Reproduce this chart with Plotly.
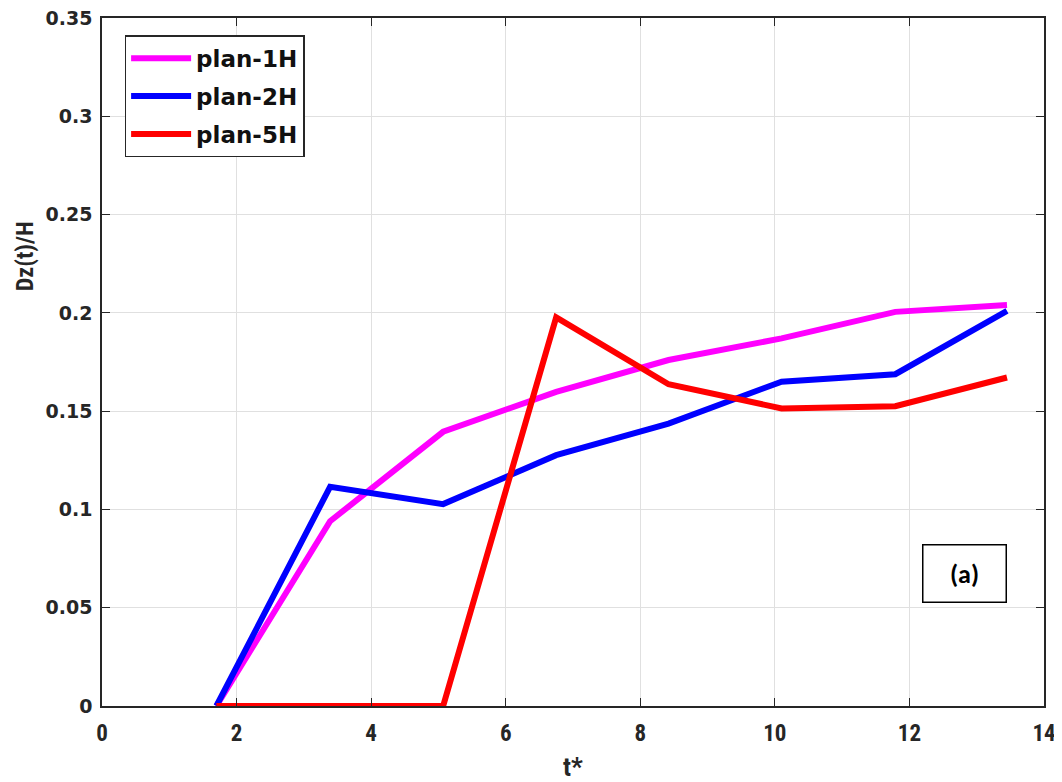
import plotly.graph_objects as go

t = [1.70, 3.39, 5.07, 6.75, 8.42, 10.10, 11.79, 13.45]
plan_1H = [0.0, 0.094, 0.1395, 0.1598, 0.176, 0.187, 0.2005, 0.204]
plan_2H = [0.0, 0.1115, 0.1027, 0.1276, 0.1437, 0.165, 0.1688, 0.201]
plan_5H = [0.0, 0.0, 0.0, 0.1977, 0.1637, 0.1514, 0.1525, 0.1671]

series = [("plan-1H", plan_1H, "#ff00ff"),
          ("plan-2H", plan_2H, "#0000ff"),
          ("plan-5H", plan_5H, "#ff0000")]

fig = go.Figure()
for name, ys, col in series:
    fig.add_trace(go.Scatter(x=t, y=ys, mode="lines", name=name, legendgroup=name,
                             line=dict(color=col, width=6)))

font_main = "Liberation Sans, Arial, sans-serif"
font_narrow = "Liberation Sans Narrow, Arial Narrow, Roboto Condensed, Liberation Sans, sans-serif"
font_wide = "DejaVu Sans, Liberation Sans, sans-serif"
axis_common = dict(showline=True, linecolor="#262626", linewidth=1.5, mirror="ticks",
                   ticks="inside", ticklen=8, tickcolor="#262626",
                   showgrid=True, gridcolor="#e0e0e0", gridwidth=1, zeroline=False,
                   ticklabeloverflow="allow")

fig.update_xaxes(range=[0, 14], dtick=2, **axis_common,
                 tickfont=dict(family=font_narrow, size=23, color="#262626", weight="bold"),
                 ticklabelstandoff=6,
                 title=dict(text="t*", font=dict(family=font_narrow, size=26, color="#262626", weight="bold"),
                            standoff=20))
fig.update_yaxes(range=[0, 0.35], dtick=0.05, tickformat="~g", **axis_common,
                 tickfont=dict(family=font_wide, size=19, color="#262626", weight="bold"),
                 ticklabelstandoff=4)

fig.update_layout(
    width=1054, height=774,
    margin=dict(l=94, r=18, t=10, b=76, autoexpand=False),
    plot_bgcolor="white", paper_bgcolor="white",
    legend=dict(x=0.024, y=0.975, xanchor="left", yanchor="top",
                bgcolor="white", bordercolor="#262626", borderwidth=1.5,
                font=dict(family=font_wide, size=23, color="#111111", weight="bold"),
                itemwidth=60, tracegroupgap=5),
    annotations=[
        dict(x=-0.0815, y=0.654, xref="paper", yref="paper", text="Dz(t)/H",
             textangle=-90, showarrow=False, xanchor="center", yanchor="middle",
             font=dict(family=font_narrow, size=24, color="#262626", weight="bold")),
        dict(x=0.916, y=0.192, xref="paper", yref="paper",
             text="(a)", showarrow=False,
             font=dict(family="Carlito, Calibri, Liberation Sans, sans-serif", size=26,
                       color="black", weight="bold"),
             bordercolor="black", borderwidth=1.5, bgcolor="white",
             width=80, height=54, xanchor="center", yanchor="middle")],
)

fig.write_html("out.html")
